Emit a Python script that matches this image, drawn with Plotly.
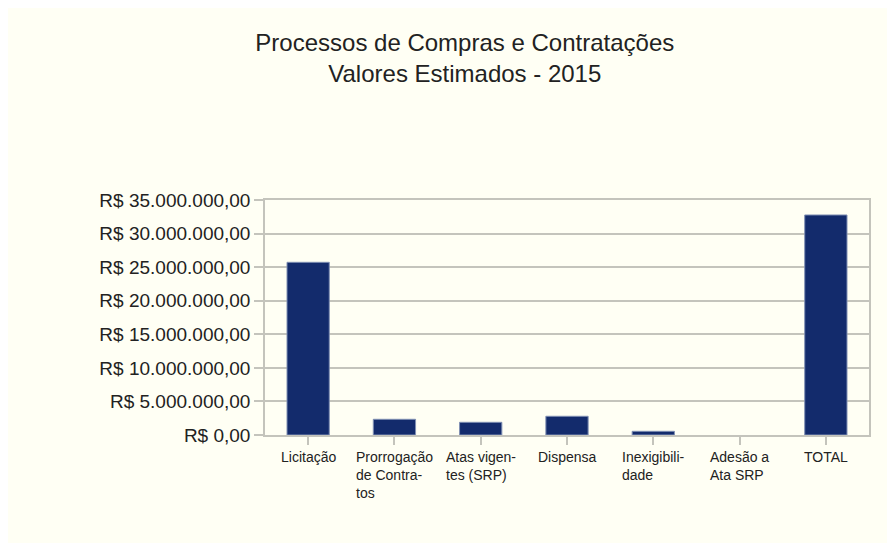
import plotly.graph_objects as go

categories = ["Licitação", "Prorrogação<br>de Contra-<br>tos", "Atas vigen-<br>tes (SRP)", "Dispensa",
              "Inexigibili-<br>dade", "Adesão a<br>Ata SRP", "TOTAL"]
values = [25720000, 2340000, 1890000, 2790000, 550000, 0, 32770000]
tick_vals = [0, 5000000, 10000000, 15000000, 20000000, 25000000, 30000000, 35000000]
tick_text = ["R$ 0,00", "R$ 5.000.000,00", "R$ 10.000.000,00", "R$ 15.000.000,00",
             "R$ 20.000.000,00", "R$ 25.000.000,00", "R$ 30.000.000,00", "R$ 35.000.000,00"]

cream = "#fffff4"
grid = "#c4c4bc"
font = "Liberation Sans"

fig = go.Figure()
fig.add_trace(go.Bar(
    x=list(range(len(categories))), y=values,
    marker=dict(color="#132b6c",
                line=dict(color="#8090b4", width=[0 if v == 0 else 1 for v in values])),
    width=0.49,
))

annotations = []
for i, c in enumerate(categories):
    annotations.append(dict(
        x=i, y=0, xref="x", yref="paper", yanchor="top", xanchor="center",
        text=c, showarrow=False, align="left", yshift=-12,
        font=dict(family=font, size=14, color="#222"),
    ))

fig.update_layout(
    width=887, height=535,
    margin=dict(l=257, r=26, t=192, b=108),
    paper_bgcolor=cream, plot_bgcolor=cream,
    showlegend=False,
    title=dict(text="Processos de Compras e Contratações<br>Valores Estimados - 2015",
               x=0.515, xanchor="center", xref="container",
               y=1 - 43 / 535, yanchor="top", yref="container",
               font=dict(family=font, size=24, color="#222")),
    xaxis=dict(range=[-0.5, len(categories) - 0.5], tickvals=list(range(len(categories))),
               showticklabels=False, showgrid=False, zeroline=False,
               showline=True, linecolor=grid, linewidth=1.5, mirror=True,
               ticks="outside", tickson="boundaries", ticklen=8, tickcolor=grid, tickwidth=1.5),
    yaxis=dict(range=[0, 35000000], tickvals=tick_vals, ticktext=tick_text,
               showgrid=True, gridcolor=grid, gridwidth=1.5, zeroline=False,
               showline=True, linecolor=grid, linewidth=1.5, mirror=True,
               ticks="outside", ticklen=9, tickcolor=grid, tickwidth=1.5,
               tickfont=dict(family=font, size=19, color="#222")),
    annotations=annotations,
    bargap=0.5,
)

fig.write_html("out.html")
